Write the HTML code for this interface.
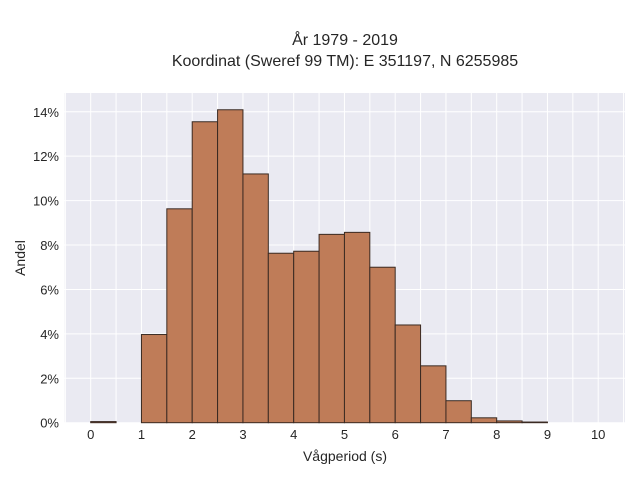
<!DOCTYPE html>
<html><head><meta charset="utf-8"><style>
body{margin:0;background:#fff;font-family:"Liberation Sans",sans-serif;}
</style></head><body>
<svg width="640" height="480" xmlns="http://www.w3.org/2000/svg">
<text x="345" y="45" text-anchor="middle" font-size="16" fill="#262626">År 1979 - 2019</text>
<text x="345" y="66" text-anchor="middle" font-size="16" fill="#262626">Koordinat (Sweref 99 TM): E 351197, N 6255985</text>
<rect x="64.5" y="93" width="560.5" height="329.7" fill="#eaeaf2"/>
<g id="grid"></g><g id="bars"></g><g id="ticks"></g>
<text x="345" y="461" text-anchor="middle" font-size="14" fill="#262626">Vågperiod (s)</text>
<text x="0" y="0" transform="translate(25,258) rotate(-90)" text-anchor="middle" font-size="14" fill="#262626">Andel</text>
</svg>
<script>
const binStarts=[0,0.5,1,1.5,2,2.5,3,3.5,4,4.5,5,5.5,6,6.5,7,7.5,8,8.5,9,9.5];
const binValues=[0.05,0,3.97,9.63,13.55,14.09,11.2,7.63,7.72,8.48,8.57,7.0,4.4,2.56,0.99,0.22,0.08,0.03,0,0];
const binWidth=0.5;
const xTicks=[0,1,2,3,4,5,6,7,8,9,10];
const yTicks=[0,2,4,6,8,10,12,14];
const NS="http://www.w3.org/2000/svg";
const X=v=>90.7+v*50.75, Y=v=>422.7-v*22.21;
const g=document.getElementById('grid'),b=document.getElementById('bars'),t=document.getElementById('ticks');
function mk(tag,attrs,parent){const e=document.createElementNS(NS,tag);for(const k in attrs)e.setAttribute(k,attrs[k]);parent.appendChild(e);return e;}
for(let v=-0.5;v<=10.5;v+=0.5){const l=mk('line',{x1:X(v),x2:X(v),y1:93,y2:422.7,stroke:'#fff','stroke-width':1},g);

}
yTicks.forEach(v=>{const l=mk('line',{x1:64.5,x2:625,y1:Y(v),y2:Y(v),stroke:'#fff','stroke-width':1},g);


const tx=mk('text',{x:59,y:Y(v)+5,'text-anchor':'end','font-size':13,fill:'#262626'},t);tx.textContent=v+'%';

});
xTicks.forEach(v=>{const tx=mk('text',{x:X(v),y:439,'text-anchor':'middle','font-size':13,fill:'#262626'},t);tx.textContent=v;

});
binStarts.forEach((s,i)=>{const v=binValues[i];if(v<=0)return;
const r=mk('rect',{x:X(s),y:Y(v),width:X(s+binWidth)-X(s),height:Y(0)-Y(v),fill:'#bf7c58',stroke:'#3a2a22','stroke-width':1},b);

});
</script>
</body></html>
